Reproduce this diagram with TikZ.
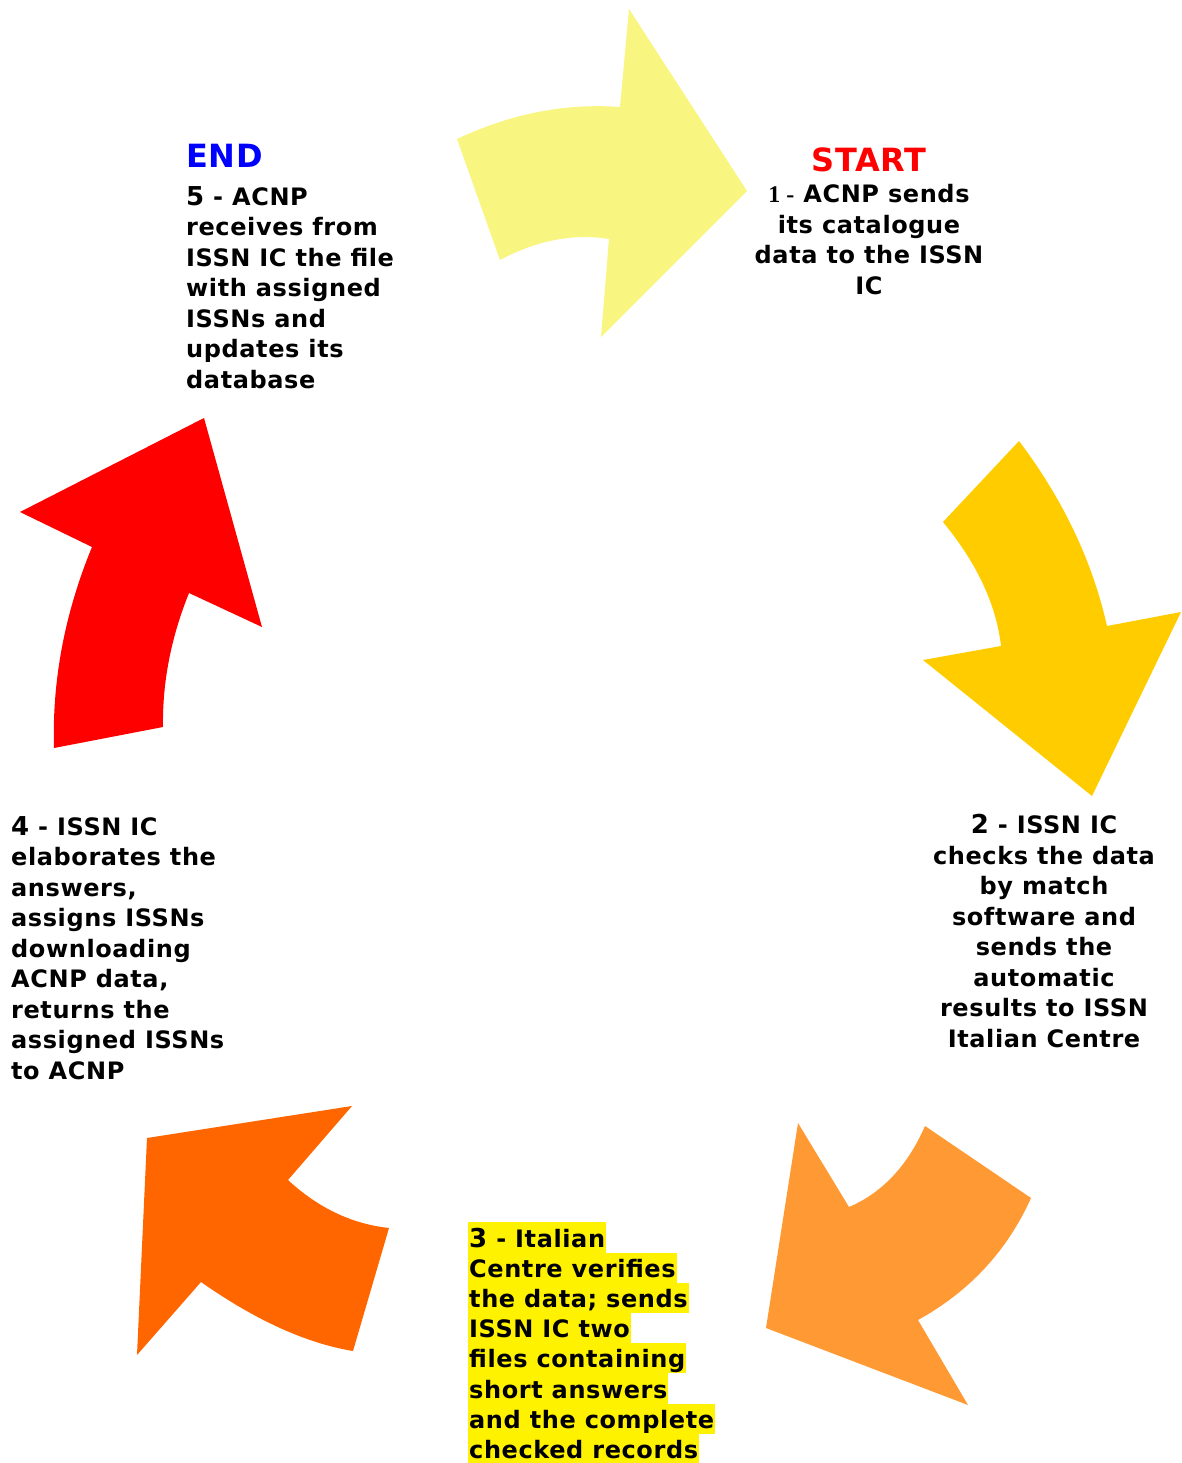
\documentclass[tikz,border=0pt]{standalone}
\usepackage{fontspec}
\setmainfont{DejaVu Sans}[BoldFont={DejaVu Sans Bold},LetterSpace=2.5]
\newfontfamily\onefont{Liberation Serif}
\definecolor{sendyellow}{HTML}{F8F580}
\definecolor{checkgold}{HTML}{FFCC00}
\definecolor{verifyorange}{HTML}{FF9933}
\definecolor{assignorange}{HTML}{FF6600}
\definecolor{returnred}{HTML}{FF0000}
\newcommand\stepnum[1]{{\fontsize{26}{30.5}\selectfont #1}}

\begin{document}
\begin{tikzpicture}[x=1pt,y=-1pt,
    steptext/.style={font=\bfseries\fontsize{24}{30.5}\selectfont,inner sep=0pt},
    tagtext/.style={font=\bfseries\fontsize{32}{32}\selectfont,inner sep=0pt,anchor=base},
    markline/.style={steptext,fill=yellow,text height=24.7pt,text depth=5.5pt,inner xsep=1pt,anchor=base west},
]
    \useasboundingbox (0,0) rectangle (1181,1463);
    % curved arrows of the cycle
    \fill[sendyellow] (620,107) .. controls (565,103) and (510.7,113.7) .. (457,139) -- (500,260)
        .. controls (537,240.3) and (573.3,233.3) .. (609,239) -- (601,337) -- (747,191) -- (629,9) -- cycle;
    \fill[checkgold] (1019,441) -- (943,522) .. controls (977,563.3) and (996.3,604.7) .. (1001,646) -- (923,660)
        -- (1092,796) -- (1181,612) -- (1107,626) .. controls (1092.3,561) and (1063,499.3) .. (1019,441) -- cycle;
    \fill[verifyorange] (925,1126) -- (1031,1198) .. controls (1007.3,1250.7) and (969.7,1291.3) .. (918,1320) -- (968,1405)
        -- (766,1328) -- (798,1123) -- (849,1207) .. controls (882.3,1192.7) and (907.7,1165.7) .. (925,1126) -- cycle;
    \fill[assignorange] (389,1228) -- (353,1351) .. controls (306.3,1343.3) and (255.7,1320.3) .. (201,1282) -- (137,1355)
        -- (147,1138) -- (352,1106) -- (288,1180) .. controls (318.3,1208) and (352,1224) .. (389,1228) -- cycle;
    \fill[returnred] (54,748) -- (163,727) .. controls (162.3,682.3) and (171,637.7) .. (189,593) -- (262,627)
        -- (204,418) -- (20,512) -- (92,547) .. controls (64.7,613.3) and (52,680.3) .. (54,748) -- cycle;

    % step texts
    \node[tagtext,text=red] (start) at (869,172) {START};
    \node[steptext,align=center,anchor=north] (step1) at (869,184.5)
        {{\onefont 1 -} ACNP sends\\its catalogue\\data to the ISSN\\IC};
    \node[tagtext,text=blue,anchor=base west] (end) at (186,168) {END};
    \node[steptext,align=left,anchor=north west] (step5) at (186,186)
        {\stepnum{5} - ACNP\\receives from\\ISSN IC the file\\with assigned\\ISSNs and\\updates its\\database};
    \node[steptext,align=center,anchor=north] (step2) at (1044,814)
        {\stepnum{2} - ISSN IC\\checks the data\\by match\\software and\\sends the\\automatic\\results to ISSN\\Italian Centre};
    \node[steptext,align=left,anchor=north west] (step4) at (11,816)
        {\stepnum{4} - ISSN IC\\elaborates the\\answers,\\assigns ISSNs\\downloading\\ACNP data,\\returns the\\assigned ISSNs\\to ACNP};
    \foreach \t [count=\i] in {{\stepnum{3} - Italian},{Centre verifies},{the data; sends},{ISSN IC two},
        {files containing},{short answers},{and the complete},{checked records}}
        \node[markline] (step3-\i) at (468,1247+30.2*\i-30.2) {\t};
\end{tikzpicture}
\end{document}
